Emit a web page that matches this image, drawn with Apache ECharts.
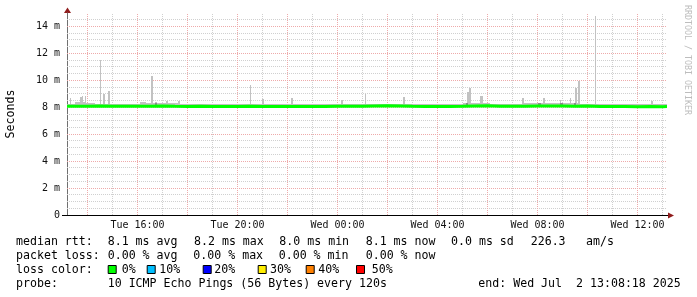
<!DOCTYPE html>
<html>
<head>
<meta charset="utf-8">
<script src="https://cdn.jsdelivr.net/npm/echarts@6/dist/echarts.min.js"></script>
<style>
html,body{margin:0;padding:0;background:#fff;}
#chart{width:697px;height:297px;}
</style>
</head>
<body>
<div id="chart"></div>
<script>
// ---- data (hours since Tue 00:00; values in ms) ----
const xMin = 13.18, xMax = 37.18;
const xLabelHours = [16, 20, 24, 28, 32, 36];
const xLabelTexts = ['Tue 16:00', 'Tue 20:00', 'Wed 00:00', 'Wed 04:00', 'Wed 08:00', 'Wed 12:00'];
const yLabelValues = [0, 2, 4, 6, 8, 10, 12, 14];
const gridHoursMajor = [14, 16, 18, 20, 22, 24, 26, 28, 30, 32, 34, 36];
const gridHoursMinor = [15, 17, 19, 21, 23, 25, 27, 29, 31, 33, 35, 37];
const gridValuesMajor = [2, 4, 6, 8, 10, 12, 14];
const gridValuesMinor = [0.5, 1, 1.5, 2.5, 3, 3.5, 4.5, 5, 5.5, 6.5, 7, 7.5, 8.5, 9, 9.5, 10.5, 11, 11.5, 12.5, 13, 13.5, 14.5];
const smokeBase = 8.0;

// smoke: each entry starts a segment lasting until the next entry (max ping of the round)
const smokeHours = [13.18, 13.30, 13.34, 13.50, 13.70, 13.78, 13.82, 13.90, 13.94, 14.30, 14.50, 14.54, 14.62, 14.70, 14.82, 14.90,
  16.10, 16.34, 16.54, 16.62, 16.70, 16.78, 17.14, 17.22, 17.62, 17.70,
  20.50, 20.54, 20.98, 21.06, 22.14, 22.22, 24.14, 24.22, 25.10, 25.14, 26.62, 26.70,
  29.02, 29.18, 29.26, 29.34, 29.70, 29.82, 30.10, 31.38, 31.46, 32.22, 32.30, 32.90, 32.94,
  33.30, 33.34, 33.50, 33.58, 33.62, 33.70, 34.30, 34.34, 36.54, 36.62, 37.18];
const smokeTops = [8.25, 8.67, 8.25, 8.38, 8.76, 8.83, 8.38, 8.87, 8.35, 8.25, 11.48, 8.25, 8.96, 8.25, 9.19, 8.25,
  8.40, 8.32, 10.30, 8.32, 8.40, 8.32, 8.47, 8.30, 8.47, 8.25,
  9.63, 8.25, 8.62, 8.25, 8.67, 8.25, 8.52, 8.25, 9.00, 8.25, 8.74, 8.25,
  8.35, 9.11, 9.46, 8.35, 8.81, 8.32, 8.25, 8.72, 8.35, 8.72, 8.35, 8.52, 8.35,
  8.67, 8.35, 9.46, 8.35, 9.95, 8.25, 14.81, 8.25, 8.47, 8.25, 8.25];

// darker (denser) part of the smoke: [start hour, end hour, top]
const darkStart = [16.70, 29.14, 32.02, 32.90, 33.46];
const darkEnd = [16.78, 29.22, 32.14, 33.02, 33.54];
const darkTops = [8.30, 8.35, 8.28, 8.28, 8.30];

// median rtt, every 30 minutes
const medianHours = [13.18, 13.5, 14, 14.5, 15, 15.5, 16, 16.5, 17, 17.5, 18, 18.5, 19, 19.5, 20, 20.5, 21, 21.5, 22, 22.5,
  23, 23.5, 24, 24.5, 25, 25.5, 26, 26.5, 27, 27.5, 28, 28.5, 29, 29.5, 30, 30.5, 31, 31.5, 32, 32.5,
  33, 33.5, 34, 34.5, 35, 35.5, 36, 36.5, 37, 37.18];
const medianValues = [8.07, 8.08, 8.09, 8.08, 8.07, 8.07, 8.08, 8.09, 8.07, 8.06, 8.07, 8.06, 8.05, 8.06, 8.07, 8.06, 8.05, 8.06, 8.05, 8.06,
  8.06, 8.07, 8.08, 8.07, 8.10, 8.11, 8.09, 8.07, 8.06, 8.05, 8.06, 8.07, 8.09, 8.11, 8.08, 8.07, 8.07, 8.09, 8.10, 8.09,
  8.08, 8.09, 8.06, 8.05, 8.05, 8.04, 8.05, 8.04, 8.05, 8.05];

// legend texts
const row1 = ['median rtt:', '8.1 ms avg', '8.2 ms max', '8.0 ms min', '8.1 ms now', '0.0 ms sd', '226.3', 'am/s'];
const row2 = ['packet loss:', '0.00 % avg', '0.00 % max', '0.00 % min', '0.00 % now'];
const row3Label = 'loss color:';
const lossLabels = ['0%', '10%', '20%', '30%', '40%', '50%'];
const lossColors = ['#00ff00', '#00bfff', '#0000ff', '#ffee00', '#ff8000', '#ff0000'];
const row4 = ['probe:', '10 ICMP Echo Pings (56 Bytes) every 120s', 'end: Wed Jul  2 13:08:18 2025'];

// ---- layout ----
const row1X = [16, 107.7, 194, 279.3, 365.7, 451, 530.7, 586];
const row2X = [16, 107.7, 193.3, 278.7, 365.7];
const boxX = [107.7, 146.7, 202.7, 257.7, 305.7, 356];
const lossTextX = [121.7, 159.3, 214.3, 270, 318.3, 371.7];
const row4X = [16, 107.7, 478.3];
const rowY = [241.5, 255.5, 269.5, 283.5];
const FONT = '11.6px "DejaVu Sans Mono"';

const graphics = [];
function txt(x, y, s, extra) {
  graphics.push(Object.assign({type: 'text', x: x, y: y, silent: true,
    style: {text: s, font: FONT, fill: '#000', align: 'left', verticalAlign: 'middle'}}, extra || {}));
}
row1.forEach((s, i) => txt(row1X[i], rowY[0], s));
row2.forEach((s, i) => txt(row2X[i], rowY[1], s));
txt(16, rowY[2], row3Label);
lossLabels.forEach((s, i) => {
  graphics.push({type: 'rect', silent: true, shape: {x: boxX[i] + 0.5, y: rowY[2] - 4, width: 8, height: 8},
    style: {fill: lossColors[i], stroke: '#000', lineWidth: 1}});
  txt(lossTextX[i], rowY[2], s);
});
row4.forEach((s, i) => txt(row4X[i], rowY[3], s));
graphics.push({type: 'text', x: 687.5, y: 60, rotation: -Math.PI / 2, silent: true,
  style: {text: 'RRDTOOL / TOBI OETIKER', font: '8.3px "DejaVu Sans Mono"', fill: '#bdbdbd', align: 'center', verticalAlign: 'middle'}});
graphics.push({type: 'line', silent: true, shape: {x1: 62, y1: 215.5, x2: 67, y2: 215.5}, style: {stroke: '#000', lineWidth: 1}});
graphics.push({type: 'line', silent: true, shape: {x1: 666, y1: 215.5, x2: 670, y2: 215.5}, style: {stroke: '#000', lineWidth: 1}});
graphics.push({type: 'polygon', silent: true, shape: {points: [[668, 212.5], [674, 215.5], [668, 218.5]]}, style: {fill: '#901c1c'}});
graphics.push({type: 'polygon', silent: true, shape: {points: [[64, 13], [67.5, 7.5], [71, 13]]}, style: {fill: '#901c1c'}});

const GRAY = '#d0d0d0', RED = '#eeaaaa';
const labelFont = {fontFamily: 'DejaVu Sans Mono', fontSize: 10, color: '#111'};

function gridSeries(values, vertical, color) {
  return {
    type: 'custom', silent: true, z: 1, xAxisIndex: 0, yAxisIndex: 0,
    data: values.map(v => [v]), encode: vertical ? {x: 0} : {y: 0},
    renderItem: (params, api) => {
      const v = api.value(0);
      const rect = params.coordSys;
      if (vertical) {
        const x = Math.floor(api.coord([v, 0])[0]) + 0.5;
        return {type: 'line', shape: {x1: x, y1: rect.y + rect.height, x2: x, y2: rect.y},
          style: {stroke: color, lineWidth: 1, lineDash: [1, 1]}};
      }
      const y = Math.floor(api.coord([xMin, v])[1]) + 0.5;
      return {type: 'line', shape: {x1: rect.x, y1: y, x2: rect.x + rect.width, y2: y},
        style: {stroke: color, lineWidth: 1, lineDash: [1, 1]}};
    }
  };
}

function rectItem(api, color) {
  const p0 = api.coord([api.value(0), smokeBase]);
  const p1 = api.coord([api.value(1), api.value(2)]);
  const x0 = Math.round(p0[0]), x1 = Math.round(p1[0]);
  const y0 = Math.round(p0[1]), y1 = Math.round(p1[1]);
  return {type: 'rect', shape: {x: x0, y: y1, width: Math.max(1, x1 - x0), height: y0 - y1}, style: {fill: color}};
}

const smokeSegments = smokeHours.slice(0, -1).map((h, i) => [h, smokeHours[i + 1], smokeTops[i]]);
const darkSegments = darkStart.map((h, i) => [h, darkEnd[i], darkTops[i]]);

const chart = echarts.init(document.getElementById('chart'), null, {renderer: 'canvas'});
chart.setOption({
  animation: false,
  backgroundColor: '#ffffff',
  grid: {left: 67, right: 30, top: 13, bottom: 82, containLabel: false, outerBoundsMode: 'none'},
  xAxis: [
    {type: 'value', min: xMin, max: xMax, splitNumber: 12, minInterval: 2, maxInterval: 2, position: 'bottom',
      axisLine: {show: true, onZero: false, lineStyle: {color: '#000', width: 1}},
      axisTick: {show: false}, splitLine: {show: false},
      axisLabel: Object.assign({show: true, margin: 5, showMinLabel: false, showMaxLabel: false,
        formatter: v => { const i = xLabelHours.indexOf(Math.round(v * 100) / 100); return i >= 0 ? xLabelTexts[i] : ''; }}, labelFont)}
  ],
  yAxis: [
    {type: 'value', min: 0, max: 15, interval: 2, position: 'left',
      name: 'Seconds', nameLocation: 'middle', nameGap: 50, nameRotate: 90,
      nameTextStyle: {fontFamily: 'DejaVu Sans Mono', fontSize: 11.6, color: '#000'},
      axisLine: {show: true, onZero: false, lineStyle: {color: '#707070', width: 1}},
      axisTick: {show: false}, splitLine: {show: false},
      axisLabel: Object.assign({show: true, margin: 7, showMaxLabel: false,
        formatter: v => yLabelValues.indexOf(v) < 0 ? '' : (v === 0 ? '0' : v + ' m')}, labelFont)}
  ],
  series: [
    gridSeries(gridHoursMinor, true, GRAY),
    gridSeries(gridValuesMinor, false, GRAY),
    gridSeries(gridHoursMajor, true, RED),
    gridSeries(gridValuesMajor, false, RED),
    {type: 'custom', name: 'smoke', xAxisIndex: 0, yAxisIndex: 0, silent: true, z: 3,
      data: smokeSegments, encode: {x: [0, 1], y: 2},
      renderItem: (params, api) => rectItem(api, '#c2c2c2')},
    {type: 'custom', name: 'smoke core', xAxisIndex: 0, yAxisIndex: 0, silent: true, z: 3,
      data: darkSegments, encode: {x: [0, 1], y: 2},
      renderItem: (params, api) => rectItem(api, '#8c8c8c')},
    {type: 'line', name: 'median rtt', xAxisIndex: 0, yAxisIndex: 0, step: 'end', showSymbol: false, silent: true,
      data: medianHours.map((h, i) => [h, medianValues[i]]),
      lineStyle: {width: 3, color: '#00ff00'}, z: 4}
  ],
  graphic: graphics
});
</script>
</body>
</html>
